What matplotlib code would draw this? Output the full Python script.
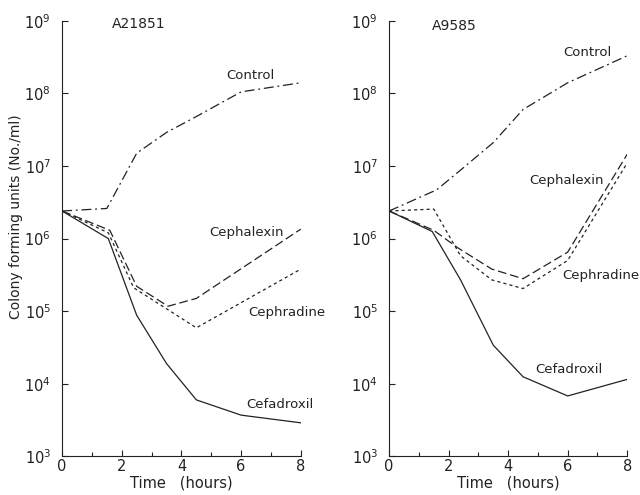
import matplotlib
matplotlib.use("Agg")
import matplotlib.pyplot as plt
from matplotlib.ticker import FixedLocator, NullFormatter

# time points (hours) and colony counts (CFU/ml)
# strain A21851
t_ctrl_a = [0, 1.5, 2.5, 3.5, 4.5, 6, 8]
ctrl_a = [2.4e6, 2.6e6, 1.5e7, 2.9e7, 4.8e7, 1.05e8, 1.4e8]
t_lex_a = [0, 1.6, 2.5, 3.55, 4.5, 8]
lex_a = [2.4e6, 1.3e6, 2.2e5, 1.17e5, 1.5e5, 1.35e6]
t_rad_a = [0, 1.55, 2.4, 4.5, 8]
rad_a = [2.4e6, 1.2e6, 2.1e5, 5.9e4, 3.8e5]
t_cef_a = [0, 1.55, 2.5, 3.5, 4.5, 6, 8]
cef_a = [2.4e6, 1.0e6, 8.8e4, 1.9e4, 6.0e3, 3.7e3, 2.9e3]

# strain A9585
t_ctrl_b = [0, 1.6, 2.5, 3.5, 4.5, 6, 8]
ctrl_b = [2.4e6, 4.7e6, 9.5e6, 2.1e7, 6.0e7, 1.4e8, 3.3e8]
t_lex_b = [0, 1.5, 2.3, 3.45, 4.5, 6, 8]
lex_b = [2.4e6, 1.3e6, 7.5e5, 3.8e5, 2.8e5, 6.5e5, 1.45e7]
t_rad_b = [0, 1.5, 2.4, 3.45, 4.5, 6, 8]
rad_b = [2.4e6, 2.55e6, 5.8e5, 2.7e5, 2.05e5, 5.0e5, 1.1e7]
t_cef_b = [0, 1.45, 2.4, 3.5, 4.5, 6, 8]
cef_b = [2.4e6, 1.25e6, 2.7e5, 3.4e4, 1.25e4, 6.8e3, 1.15e4]

c = "#222222"
st_ctrl = (0, (8, 3, 1.5, 3))
st_lex = (0, (7, 3))
st_rad = (0, (2.5, 2.5))

fig = plt.figure(figsize=(6.4, 4.95), dpi=100)
ax1 = fig.add_axes([0.097, 0.078, 0.373, 0.88])
ax2 = fig.add_axes([0.608, 0.078, 0.372, 0.88])

ax1.plot(t_ctrl_a, ctrl_a, color=c, lw=0.9, linestyle=st_ctrl)
ax1.plot(t_lex_a, lex_a, color=c, lw=0.9, linestyle=st_lex)
ax1.plot(t_rad_a, rad_a, color=c, lw=0.9, linestyle=st_rad)
ax1.plot(t_cef_a, cef_a, color=c, lw=0.9)

ax2.plot(t_ctrl_b, ctrl_b, color=c, lw=0.9, linestyle=st_ctrl)
ax2.plot(t_lex_b, lex_b, color=c, lw=0.9, linestyle=st_lex)
ax2.plot(t_rad_b, rad_b, color=c, lw=0.9, linestyle=st_rad)
ax2.plot(t_cef_b, cef_b, color=c, lw=0.9)

for ax in (ax1, ax2):
    ax.set_yscale("log")
    ax.set_xlim(0, 8)
    ax.set_ylim(1e3, 1e9)
    ax.spines["top"].set_visible(False)
    ax.spines["right"].set_visible(False)
    ax.spines["left"].set_color(c)
    ax.spines["bottom"].set_color(c)
    ax.spines["left"].set_linewidth(0.8)
    ax.spines["bottom"].set_linewidth(0.8)
    ax.set_xticks([0, 2, 4, 6, 8])
    ax.xaxis.set_minor_locator(FixedLocator([1, 3, 5, 7]))
    ax.yaxis.set_major_locator(FixedLocator([1e3, 1e4, 1e5, 1e6, 1e7, 1e8, 1e9]))
    ax.yaxis.set_minor_locator(FixedLocator([]))
    ax.yaxis.set_minor_formatter(NullFormatter())
    ax.set_yticklabels([r"$10^{%d}$" % k for k in range(3, 10)])
    ax.tick_params(direction="in", length=4, width=0.8, colors=c, labelsize=10.5)
    ax.tick_params(axis="y", pad=8)
    ax.tick_params(axis="x", pad=2)
    ax.tick_params(which="minor", direction="in", length=3, width=0.8, colors=c)
    ax.set_xlabel("Time   (hours)", fontsize=10.5, color=c)
    ax.xaxis.set_label_coords(0.5, -0.045)

ax1.set_ylabel("Colony forming units (No./ml)", fontsize=10, color=c)
ax1.yaxis.set_label_coords(-0.165, 0.55)

ax1.text(2.57, 10**8.95, "A21851", fontsize=10, color=c, ha="center", va="center")
ax2.text(2.2, 10**8.93, "A9585", fontsize=10, color=c, ha="center", va="center")

lab = dict(fontsize=9.5, color=c, ha="center", va="center")
ax1.text(6.3, 10**8.24, "Control", **lab)
ax1.text(6.17, 10**6.08, "Cephalexin", **lab)
ax1.text(7.53, 10**4.98, "Cephradine", **lab)
ax1.text(7.3, 10**3.71, "Cefadroxil", **lab)

ax2.text(6.65, 10**8.56, "Control", **lab)
ax2.text(5.95, 10**6.80, "Cephalexin", **lab)
ax2.text(7.1, 10**5.49, "Cephradine", **lab)
ax2.text(6.05, 10**4.2, "Cefadroxil", **lab)

fig.savefig("out.png", dpi=100)
